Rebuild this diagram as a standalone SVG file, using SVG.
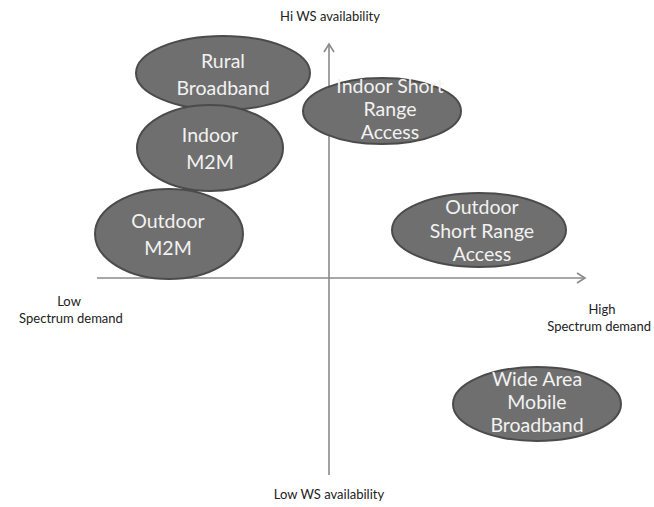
<svg xmlns="http://www.w3.org/2000/svg" width="654" height="507" viewBox="0 0 654 507">
<style>
.node ellipse{fill:#6f6f6f;stroke:#4b4b4b;stroke-width:2}
.node text{font-family:Lato,"Open Sans",sans-serif;font-size:19.5px;fill:#f2f2f2;text-anchor:middle}
.lbl{font-family:Lato,"Open Sans",sans-serif;font-size:13px;fill:#222;text-anchor:middle}
.axis{stroke:#8a8a8a;stroke-width:1.6;fill:none}
</style>
<rect width="654" height="507" fill="#fff"/>
<g id="connectors">
<line class="axis" x1="329" y1="475" x2="329" y2="44"/>
<polyline class="axis" points="324,52 329,44 334,52"/>
<line class="axis" x1="97" y1="278" x2="585" y2="278"/>
<polyline class="axis" points="577,273 585,278 577,283"/>
</g>
<g id="rural" class="node">
<ellipse cx="223" cy="73" rx="87" ry="37"/>
<text x="223" y="68">Rural</text>
<text x="223" y="95">Broadband</text>
</g>
<g id="indoor-m2m" class="node">
<ellipse cx="210" cy="148" rx="73" ry="43"/>
<text x="210" y="142">Indoor</text>
<text x="210" y="169">M2M</text>
</g>
<g id="outdoor-m2m" class="node">
<ellipse cx="169" cy="234" rx="74" ry="45"/>
<text x="168" y="228">Outdoor</text>
<text x="168" y="255">M2M</text>
</g>
<g id="indoor-sra" class="node">
<ellipse cx="382" cy="111" rx="79" ry="33"/>
<text x="390" y="93">Indoor Short</text>
<text x="390" y="116">Range</text>
<text x="390" y="139">Access</text>
</g>
<g id="outdoor-sra" class="node">
<ellipse cx="479" cy="230" rx="87" ry="37"/>
<text x="482" y="214">Outdoor</text>
<text x="482" y="238">Short Range</text>
<text x="482" y="261">Access</text>
</g>
<g id="wide-area" class="node">
<ellipse cx="537" cy="404" rx="84" ry="37"/>
<text x="537" y="386">Wide Area</text>
<text x="537" y="409">Mobile</text>
<text x="537" y="432">Broadband</text>
</g>
<g id="labels">
<text class="lbl" x="330" y="21">Hi WS availability</text>
<text class="lbl" x="329" y="499">Low WS availability</text>
<text class="lbl" x="69" y="306">Low</text>
<text class="lbl" x="71" y="323">Spectrum demand</text>
<text class="lbl" x="602" y="314">High</text>
<text class="lbl" x="651" y="331" style="text-anchor:end">Spectrum demand</text>
</g>
</svg>
